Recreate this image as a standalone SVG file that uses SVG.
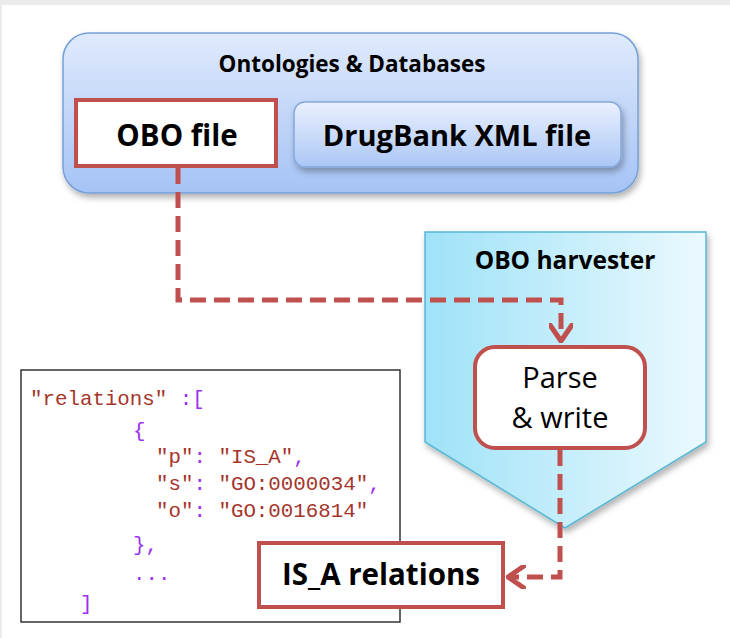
<svg xmlns="http://www.w3.org/2000/svg" width="730" height="638" viewBox="0 0 730 638">
  <defs>
    <linearGradient id="gContainer" x1="0" y1="0" x2="0" y2="1">
      <stop offset="0" stop-color="#e0eafc"/>
      <stop offset="1" stop-color="#a5c3f5"/>
    </linearGradient>
    <linearGradient id="gDrug" x1="0" y1="0" x2="0" y2="1">
      <stop offset="0" stop-color="#eaf0fd"/>
      <stop offset="1" stop-color="#abc7f6"/>
    </linearGradient>
    <linearGradient id="gHarvest" x1="0" y1="0" x2="1" y2="0">
      <stop offset="0" stop-color="#9fe2f8"/>
      <stop offset="1" stop-color="#ebf9fe"/>
    </linearGradient>
    <filter id="shadow" x="-10%" y="-10%" width="125%" height="130%">
      <feDropShadow dx="2" dy="4" stdDeviation="3" flood-color="#000" flood-opacity="0.3"/>
    </filter>
    <marker id="chevron" viewBox="0 0 20 24" refX="18" refY="12" markerWidth="20" markerHeight="24" markerUnits="userSpaceOnUse" orient="auto">
      <path d="M2 1 L18 12 L2 23" fill="none" stroke="#c0504d" stroke-width="5" stroke-linecap="round" stroke-linejoin="round"/>
    </marker>
    <style>
      .label { font-family: "Open Sans", "Liberation Sans", sans-serif; fill: #000; text-anchor: middle; }
      .bold { font-weight: 700; }
      .semi { font-weight: 600; }
      .redbox { fill: #fff; stroke: #c0504d; stroke-width: 4; }
      .conn { fill: none; stroke: #c0504d; stroke-width: 5; stroke-dasharray: 16 8; }
      .code { font-family: "Liberation Mono", "Courier New", monospace; font-size: 20.8px; }
      .str { fill: #a5352b; }
      .pun { fill: #9b30f0; }
    </style>
  </defs>

  <!-- page frame -->
  <rect x="0" y="0" width="730" height="638" fill="#ffffff"/>
  <rect x="0" y="0" width="730" height="5" fill="#ebebeb"/>
  <rect x="0" y="0" width="2" height="638" fill="#ebebeb"/>

  <!-- source container -->
  <g id="ontologies-databases">
    <rect x="63" y="33" width="575" height="160" rx="26" fill="url(#gContainer)" stroke="#76a0d8" stroke-width="1.5" filter="url(#shadow)"/>
    <text class="label bold" x="352" y="72" font-size="22.5">Ontologies &amp; Databases</text>
  </g>

  <g id="obo-file">
    <rect class="redbox" x="76" y="100" width="200" height="66"/>
    <text class="label bold" x="177" y="146" font-size="29.5">OBO file</text>
  </g>

  <g id="drugbank-xml">
    <rect x="294" y="102" width="327" height="65" rx="11" fill="url(#gDrug)" stroke="#85a8dc" stroke-width="1.5" filter="url(#shadow)"/>
    <text class="label bold" x="457" y="146" font-size="29">DrugBank XML file</text>
  </g>

  <!-- harvester chevron -->
  <g id="obo-harvester">
    <polygon points="425,232 706,232 706,442 565,528 425,442" fill="url(#gHarvest)" stroke="#5ab7d3" stroke-width="1.5" filter="url(#shadow)"/>
    <text class="label bold" x="565" y="269" font-size="24.5">OBO harvester</text>
  </g>

  <!-- JSON output sample -->
  <g id="json-sample">
    <rect x="21" y="370" width="379" height="252" fill="#fff" stroke="#333" stroke-width="1.5"/>
    <text class="code" x="30" y="405"><tspan class="str">"relations"</tspan><tspan class="pun"> :[</tspan></text>
    <text class="code pun" x="133" y="437">{</text>
    <text class="code" x="156" y="463"><tspan class="str">"p"</tspan><tspan class="pun">: </tspan><tspan class="str">"IS_A"</tspan><tspan class="pun">,</tspan></text>
    <text class="code" x="156" y="490"><tspan class="str">"s"</tspan><tspan class="pun">: </tspan><tspan class="str">"GO:0000034"</tspan><tspan class="pun">,</tspan></text>
    <text class="code" x="156" y="517"><tspan class="str">"o"</tspan><tspan class="pun">: </tspan><tspan class="str">"GO:0016814"</tspan></text>
    <text class="code pun" x="133" y="551">},</text>
    <text class="code pun" x="133" y="580">...</text>
    <text class="code pun" x="80" y="610">]</text>
  </g>

  <!-- connectors -->
  <g id="connectors">
    <path class="conn" d="M178 168 V300 H561 V341" marker-end="url(#chevron)"/>
    <path class="conn" d="M560 450 V577 H508" marker-end="url(#chevron)"/>
  </g>

  <g id="parse-write">
    <rect class="redbox" x="475" y="347" width="170" height="101" rx="20"/>
    <text class="label" x="560" y="388" font-size="29">Parse</text>
    <text class="label" x="560" y="428" font-size="29">&amp; write</text>
  </g>

  <g id="is-a-relations">
    <rect class="redbox" x="259" y="543" width="244" height="64"/>
    <text class="label bold" x="381" y="585" font-size="29.5">IS_A relations</text>
  </g>
</svg>
